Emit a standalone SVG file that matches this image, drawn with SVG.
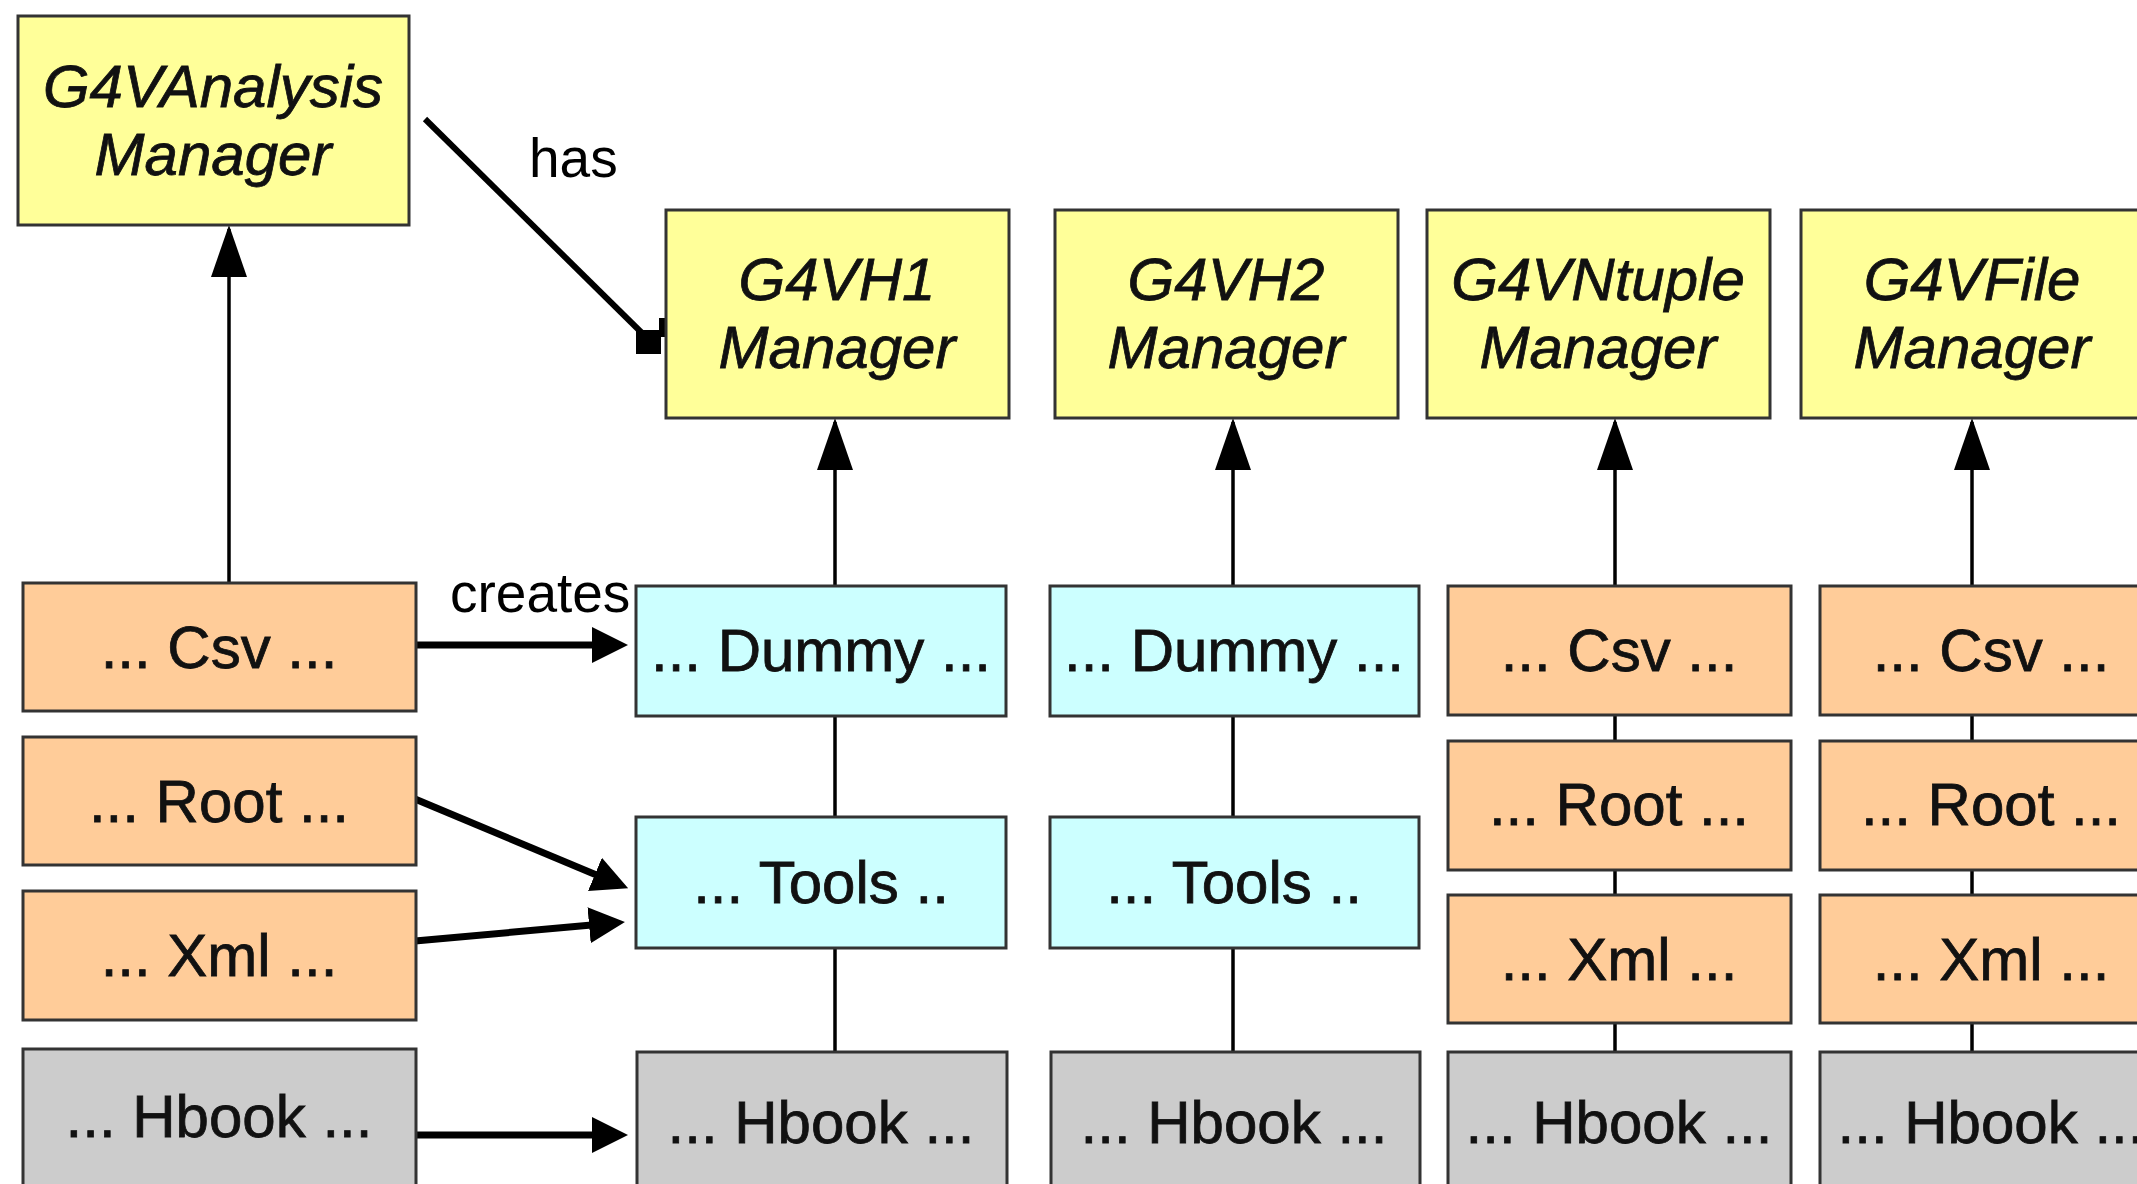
<svg xmlns="http://www.w3.org/2000/svg" width="2137" height="1184" viewBox="0 0 2137 1184">
<defs>
<style>
.box{stroke:#333;stroke-width:3}
.mgr{fill:#FFFF99}
.io{fill:#FFCC99}
.tool{fill:#CCFFFF}
.hb{fill:#CCCCCC}
text{font-family:"Liberation Sans",Arial,sans-serif;fill:#111;text-anchor:middle;font-size:60px;stroke:#111;stroke-width:0.8}
.it{font-style:italic}
.lbl{font-size:55px;text-anchor:start;fill:#000;stroke:none}
.thin{stroke:#000;stroke-width:3.5;fill:none}
.thick{stroke:#000;stroke-width:7;fill:none}
</style>
<marker id="tri" markerUnits="userSpaceOnUse" markerWidth="52" markerHeight="36" refX="48" refY="18" orient="auto">
<path d="M0,0 L52,18 L0,36 z" fill="#000"/>
</marker>
<marker id="tri2" markerUnits="userSpaceOnUse" markerWidth="36" markerHeight="36" refX="25" refY="18" orient="auto">
<path d="M0,0 L36,18 L0,36 z" fill="#000"/>
</marker>
</defs>
<rect width="2137" height="1184" fill="#fff"/>

<g id="connectors">
<line class="thin" x1="229" y1="583" x2="229" y2="229" marker-end="url(#tri)"/>
<line class="thin" x1="835" y1="586" x2="835" y2="422" marker-end="url(#tri)"/>
<line class="thin" x1="1233" y1="586" x2="1233" y2="422" marker-end="url(#tri)"/>
<line class="thin" x1="1615" y1="586" x2="1615" y2="422" marker-end="url(#tri)"/>
<line class="thin" x1="1972" y1="586" x2="1972" y2="422" marker-end="url(#tri)"/>
<line class="thin" x1="835" y1="716" x2="835" y2="817"/>
<line class="thin" x1="835" y1="948" x2="835" y2="1052"/>
<line class="thin" x1="1233" y1="716" x2="1233" y2="817"/>
<line class="thin" x1="1233" y1="948" x2="1233" y2="1052"/>
<line class="thin" x1="1615" y1="715" x2="1615" y2="741"/>
<line class="thin" x1="1615" y1="870" x2="1615" y2="895"/>
<line class="thin" x1="1615" y1="1023" x2="1615" y2="1052"/>
<line class="thin" x1="1972" y1="715" x2="1972" y2="741"/>
<line class="thin" x1="1972" y1="870" x2="1972" y2="895"/>
<line class="thin" x1="1972" y1="1023" x2="1972" y2="1052"/>
<line class="thick" x1="416" y1="645" x2="617" y2="645" marker-end="url(#tri2)"/>
<line class="thick" x1="415" y1="799" x2="618" y2="884" marker-end="url(#tri2)"/>
<line class="thick" x1="415" y1="941" x2="614" y2="923" marker-end="url(#tri2)"/>
<line class="thick" x1="416" y1="1135" x2="617" y2="1135" marker-end="url(#tri2)"/>
<line x1="425" y1="119" x2="645" y2="336" stroke="#000" stroke-width="6"/>
<rect x="636" y="330" width="25" height="24" fill="#000"/>
<rect x="659" y="318" width="9" height="19" fill="#000"/>
<text class="lbl" x="529" y="177">has</text>
<text class="lbl" x="450" y="612">creates</text>
</g>

<g id="analysis-manager"><rect class="box mgr" x="18" y="16" width="391" height="209"/><text class="it" x="213" y="107">G4VAnalysis</text><text class="it" x="213" y="175">Manager</text></g>
<g id="h1-manager"><rect class="box mgr" x="666" y="210" width="343" height="208"/><text class="it" x="837" y="300">G4VH1</text><text class="it" x="837" y="368">Manager</text></g>
<g id="h2-manager"><rect class="box mgr" x="1055" y="210" width="343" height="208"/><text class="it" x="1226" y="300">G4VH2</text><text class="it" x="1226" y="368">Manager</text></g>
<g id="ntuple-manager"><rect class="box mgr" x="1427" y="210" width="343" height="208"/><text class="it" x="1598" y="300">G4VNtuple</text><text class="it" x="1598" y="368">Manager</text></g>
<g id="file-manager"><rect class="box mgr" x="1801" y="210" width="343" height="208"/><text class="it" x="1972" y="300">G4VFile</text><text class="it" x="1972" y="368">Manager</text></g>

<g id="left-csv"><rect class="box io" x="23" y="583" width="393" height="128"/><text x="219" y="668">... Csv ...</text></g>
<g id="left-root"><rect class="box io" x="23" y="737" width="393" height="128"/><text x="219" y="822">... Root ...</text></g>
<g id="left-xml"><rect class="box io" x="23" y="891" width="393" height="129"/><text x="219" y="976">... Xml ...</text></g>
<g id="left-hbook"><rect class="box hb" x="23" y="1049" width="393" height="200"/><text x="219" y="1137">... Hbook ...</text></g>

<g id="h1-dummy"><rect class="box tool" x="636" y="586" width="370" height="130"/><text x="821" y="671">... Dummy ...</text></g>
<g id="h1-tools"><rect class="box tool" x="636" y="817" width="370" height="131"/><text x="821" y="903">... Tools ..</text></g>
<g id="h1-hbook"><rect class="box hb" x="637" y="1052" width="370" height="200"/><text x="821" y="1143">... Hbook ...</text></g>

<g id="h2-dummy"><rect class="box tool" x="1050" y="586" width="369" height="130"/><text x="1234" y="671">... Dummy ...</text></g>
<g id="h2-tools"><rect class="box tool" x="1050" y="817" width="369" height="131"/><text x="1234" y="903">... Tools ..</text></g>
<g id="h2-hbook"><rect class="box hb" x="1051" y="1052" width="369" height="200"/><text x="1234" y="1143">... Hbook ...</text></g>

<g id="ntuple-csv"><rect class="box io" x="1448" y="586" width="343" height="129"/><text x="1619" y="671">... Csv ...</text></g>
<g id="ntuple-root"><rect class="box io" x="1448" y="741" width="343" height="129"/><text x="1619" y="825">... Root ...</text></g>
<g id="ntuple-xml"><rect class="box io" x="1448" y="895" width="343" height="128"/><text x="1619" y="980">... Xml ...</text></g>
<g id="ntuple-hbook"><rect class="box hb" x="1448" y="1052" width="343" height="200"/><text x="1619" y="1143">... Hbook ...</text></g>

<g id="file-csv"><rect class="box io" x="1820" y="586" width="343" height="129"/><text x="1991" y="671">... Csv ...</text></g>
<g id="file-root"><rect class="box io" x="1820" y="741" width="343" height="129"/><text x="1991" y="825">... Root ...</text></g>
<g id="file-xml"><rect class="box io" x="1820" y="895" width="343" height="128"/><text x="1991" y="980">... Xml ...</text></g>
<g id="file-hbook"><rect class="box hb" x="1820" y="1052" width="343" height="200"/><text x="1991" y="1143">... Hbook ...</text></g>
</svg>
